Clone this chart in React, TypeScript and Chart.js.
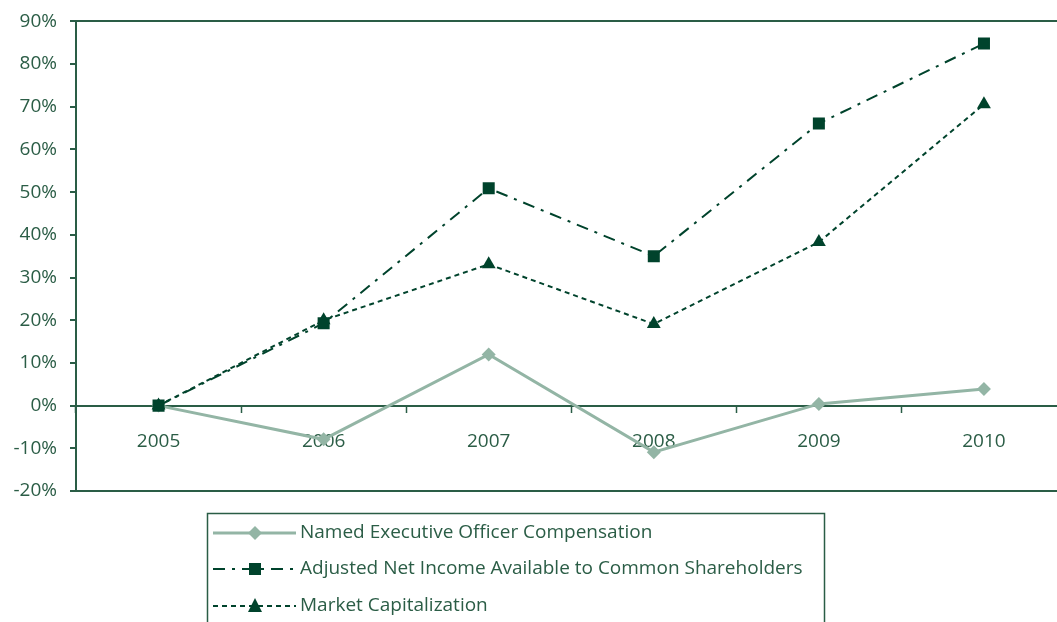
import React, { useEffect, useRef } from "react";
import { Chart, registerables } from "chart.js";

Chart.register(...registerables);

const years = ["2005", "2006", "2007", "2008", "2009", "2010"];
const neoComp = [0, -7.9, 12.0, -10.9, 0.4, 3.9];
const adjNetIncome = [0, 19.3, 50.9, 35.0, 66.1, 84.8];
const marketCap = [0, 20.0, 33.1, 19.1, 38.3, 70.6];
const seriesNames = [
  "Named Executive Officer Compensation",
  "Adjusted Net Income Available to Common Shareholders",
  "Market Capitalization",
];

const AXIS = "#2a5d46";
const TEXT = "#2b5d46";
const DARK = "#00432c";
const LIGHT = "#93b5a5";
const FONT = "'Open Sans', 'DejaVu Sans', sans-serif";
const FONT_SIZE = 19;
const DASH_DOT = [12, 7, 3, 7];
const DOTTED = [5, 4];
const SHIFT = 3;

const legendPlugin = {
  id: "boxLegend",
  afterDraw(chart: any) {
    const ctx = chart.ctx as CanvasRenderingContext2D;
    ctx.save();
    ctx.strokeStyle = AXIS;
    ctx.lineWidth = 1.5;
    ctx.strokeRect(207.5, 513.5 + SHIFT, 617, 200);
    const rows = [
      { y: 533 + SHIFT, color: LIGHT, dash: [] as number[], width: 3, marker: "diamond" },
      { y: 569 + SHIFT, color: DARK, dash: DASH_DOT, width: 2, marker: "square" },
      { y: 606 + SHIFT, color: DARK, dash: DOTTED, width: 2, marker: "triangle" },
    ];
    rows.forEach((r, i) => {
      ctx.save();
      ctx.strokeStyle = r.color;
      ctx.lineWidth = r.width;
      ctx.setLineDash(r.dash);
      ctx.beginPath();
      ctx.moveTo(213, r.y);
      ctx.lineTo(296, r.y);
      ctx.stroke();
      ctx.setLineDash([]);
      ctx.fillStyle = r.color;
      ctx.beginPath();
      const x = 255;
      if (r.marker === "diamond") {
        ctx.moveTo(x - 7, r.y);
        ctx.lineTo(x, r.y - 7);
        ctx.lineTo(x + 7, r.y);
        ctx.lineTo(x, r.y + 7);
      } else if (r.marker === "square") {
        ctx.rect(x - 6, r.y - 6, 12, 12);
      } else {
        ctx.moveTo(x, r.y - 8);
        ctx.lineTo(x + 7, r.y + 6);
        ctx.lineTo(x - 7, r.y + 6);
      }
      ctx.closePath();
      ctx.fill();
      ctx.restore();
      ctx.fillStyle = TEXT;
      ctx.font = `${FONT_SIZE}px ${FONT}`;
      ctx.textBaseline = "middle";
      ctx.textAlign = "left";
      ctx.fillText(seriesNames[i], 300, r.y);
    });
    ctx.restore();
  },
};

export default function App() {
  const ref = useRef<HTMLCanvasElement>(null);
  useEffect(() => {
    if (!ref.current) return;
    const chart = new Chart(ref.current, {
      type: "line",
      data: {
        labels: years,
        datasets: [
          {
            label: seriesNames[0],
            data: neoComp,
            borderColor: LIGHT,
            backgroundColor: LIGHT,
            borderWidth: 3,
            pointStyle: "rectRot",
            pointRadius: 7,
            pointBorderWidth: 0,
            order: 3,
          },
          {
            label: seriesNames[1],
            data: adjNetIncome,
            borderColor: DARK,
            backgroundColor: DARK,
            borderWidth: 2,
            borderDash: DASH_DOT,
            pointStyle: "rect",
            pointRadius: 8.5,
            pointBorderWidth: 0,
            order: 1,
          },
          {
            label: seriesNames[2],
            data: marketCap,
            borderColor: DARK,
            backgroundColor: DARK,
            borderWidth: 2,
            borderDash: DOTTED,
            pointStyle: "triangle",
            pointRadius: 8,
            pointBorderWidth: 0,
            order: 2,
          },
        ],
      },
      options: {
        animation: false,
        responsive: false,
        devicePixelRatio: 1,
        layout: { padding: { top: 18, bottom: 156, right: 4, left: 0 } },
        plugins: { legend: { display: false }, tooltip: { enabled: false } },
        scales: {
          x: {
            type: "category",
            position: { y: 0 } as any,
            offset: true,
            grid: {
              offset: true,
              drawOnChartArea: false,
              drawTicks: true,
              tickLength: 6,
              tickColor: AXIS,
              tickWidth: 1.5,
              color: AXIS,
            },
            border: { display: true, color: AXIS, width: 2 },
            ticks: {
              color: TEXT,
              font: { family: FONT, size: FONT_SIZE },
              padding: 19,
              maxRotation: 0,
            },
          },
          y: {
            min: -20,
            max: 90,
            afterFit: (s: any) => {
              s.width = 76;
            },
            grid: {
              color: (c: any) =>
                c.tick && (c.tick.value === 90 || c.tick.value === -20) ? AXIS : "rgba(0,0,0,0)",
              lineWidth: 2,
              tickLength: 6,
              tickColor: AXIS,
              tickWidth: 2,
            },
            border: { display: true, color: AXIS, width: 2 },
            ticks: {
              stepSize: 10,
              color: TEXT,
              font: { family: FONT, size: FONT_SIZE },
              padding: 13,
              callback: (v: any) => `${v}%`,
            },
          },
        },
      },
      plugins: [legendPlugin],
    });
    return () => chart.destroy();
  }, []);
  return (
    <div
      style={{
        position: "fixed",
        left: 0,
        top: 0,
        width: 1057,
        height: 622,
        overflow: "hidden",
        background: "#fff",
      }}
    >
      <canvas
        ref={ref}
        width={1075}
        height={650}
        style={{ width: 1075, height: 650, display: "block", marginTop: -SHIFT }}
      />
    </div>
  );
}
